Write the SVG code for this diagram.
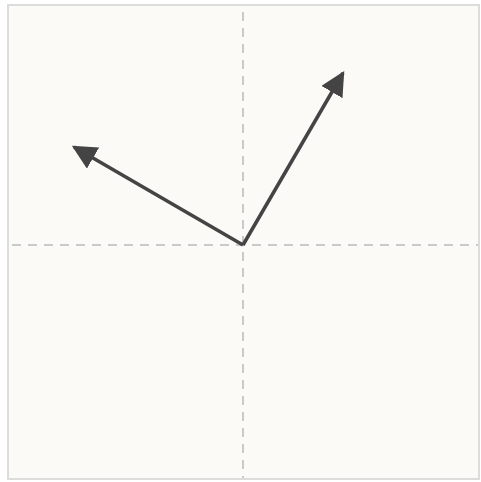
<svg xmlns="http://www.w3.org/2000/svg" width="481" height="482" viewBox="0 0 481 482">
<defs>
<style>
.frame{fill:#fbfaf6;stroke:#dcdcda;stroke-width:2}
.axis{stroke:#c9c9c7;stroke-width:2;stroke-dasharray:9,7;fill:none}
.vec{stroke:#444;stroke-width:3.5;fill:none;marker-end:url(#ah)}
</style>
<marker id="ah" viewBox="0 0 10 10" refX="9" refY="5" markerWidth="7" markerHeight="7" markerUnits="strokeWidth" orient="auto">
<path d="M0,0 L10,5 L0,10 Z" fill="#444"/>
</marker>
</defs>
<rect class="frame" x="8" y="5" width="471" height="474"/>
<g id="axes">
<line class="axis" x1="243" y1="12" x2="243" y2="478"/>
<line class="axis" x1="12" y1="245" x2="478" y2="245"/>
</g>
<g id="connectors">
<line class="vec" x1="243" y1="245" x2="74" y2="147"/>
<line class="vec" x1="243" y1="245" x2="343" y2="73"/>
</g>
</svg>
